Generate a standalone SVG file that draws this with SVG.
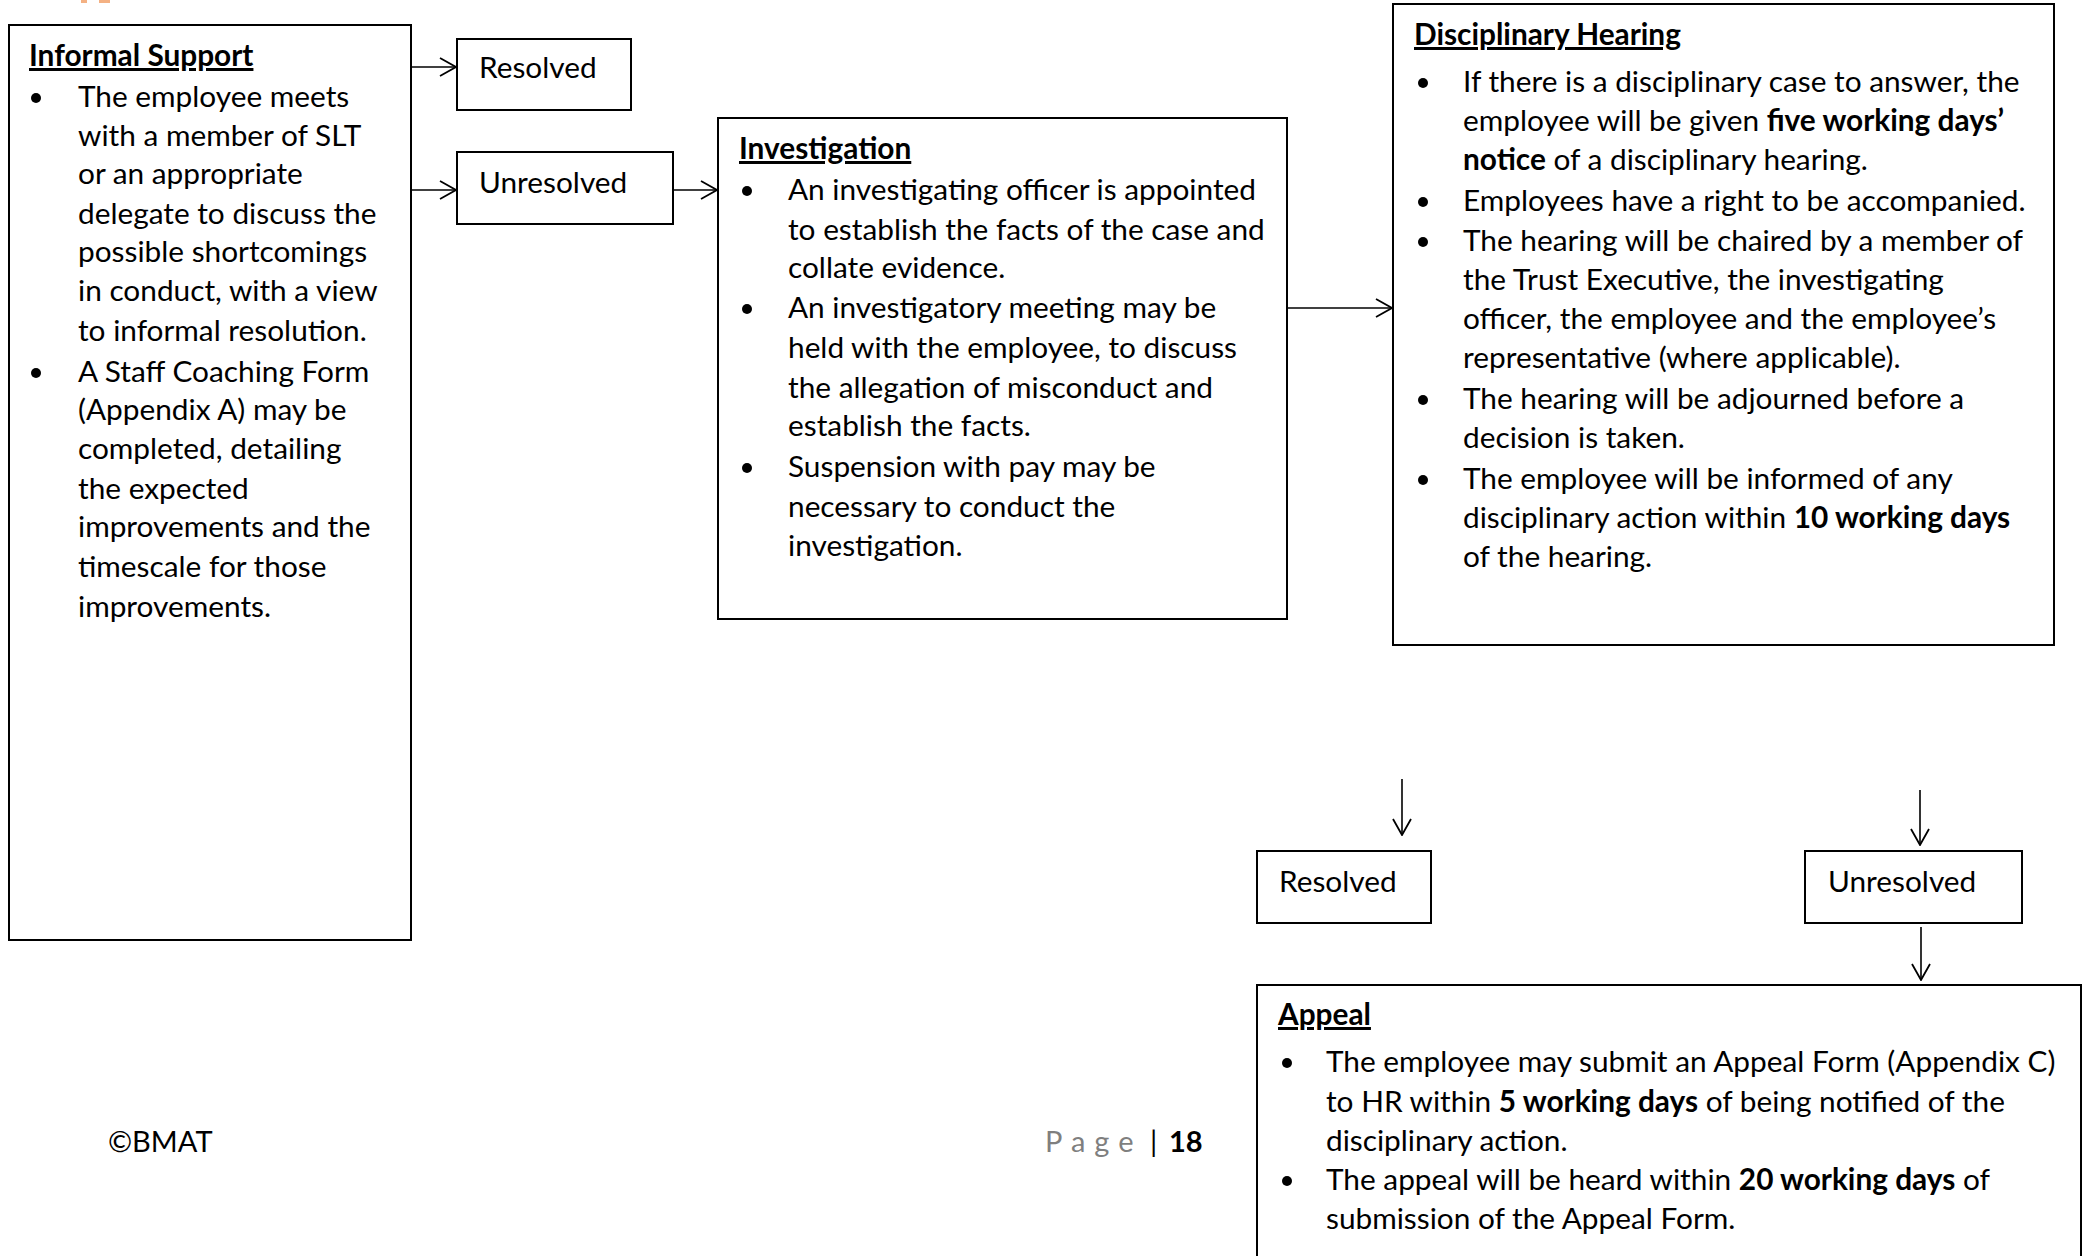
<svg xmlns="http://www.w3.org/2000/svg" width="2082" height="1256" viewBox="0 0 2082 1256">
<style>
.box{fill:#fff;stroke:#000;stroke-width:2}
.t{font-family:Lato,"Liberation Sans",sans-serif;font-size:29.8px;fill:#000}
.h{font-weight:bold;text-decoration:underline}
.b{font-weight:bold}
.dot{fill:#000}
.conn{stroke:#000;stroke-width:1.6;fill:none}
.ft{font-family:Lato,"Liberation Sans",sans-serif;font-size:29px;fill:#000}
</style>
<defs>
<marker id="arr" viewBox="0 0 18 20" refX="17" refY="10" markerWidth="18" markerHeight="20" markerUnits="userSpaceOnUse" orient="auto">
<path d="M1,1 L17,10 L1,19" fill="none" stroke="#000" stroke-width="1.8"/>
</marker>
</defs>
<rect width="2082" height="1256" fill="#fff"/>
<rect x="81" y="0" width="6" height="3" fill="#f4b183"/>
<rect x="99" y="0" width="11" height="3" fill="#f4b183"/>

<g id="informal">
<rect class="box" x="9" y="25" width="402" height="915"/>
<text class="t h" x="29" y="66">Informal Support</text>
<circle class="dot" cx="36" cy="98" r="5"/>
<circle class="dot" cx="36" cy="373" r="5"/>
<text class="t" x="78" y="107">The employee meets</text>
<text class="t" x="78" y="146">with a member of SLT</text>
<text class="t" x="78" y="184">or an appropriate</text>
<text class="t" x="78" y="224">delegate to discuss the</text>
<text class="t" x="78" y="262">possible shortcomings</text>
<text class="t" x="78" y="301">in conduct, with a view</text>
<text class="t" x="78" y="341">to informal resolution.</text>
<text class="t" x="78" y="382">A Staff Coaching Form</text>
<text class="t" x="78" y="420">(Appendix A) may be</text>
<text class="t" x="78" y="459">completed, detailing</text>
<text class="t" x="78" y="499">the expected</text>
<text class="t" x="78" y="537">improvements and the</text>
<text class="t" x="78" y="577">timescale for those</text>
<text class="t" x="78" y="617">improvements.</text>
</g>

<g id="resolved1">
<rect class="box" x="457" y="39" width="174" height="71"/>
<text class="t" x="479" y="78">Resolved</text>
</g>

<g id="unresolved1">
<rect class="box" x="457" y="152" width="216" height="72"/>
<text class="t" x="479" y="193">Unresolved</text>
</g>

<g id="investigation">
<rect class="box" x="718" y="118" width="569" height="501"/>
<text class="t h" x="739" y="159">Investigation</text>
<circle class="dot" cx="747" cy="191" r="5"/>
<circle class="dot" cx="747" cy="309" r="5"/>
<circle class="dot" cx="747" cy="468" r="5"/>
<text class="t" x="788" y="200">An investigating officer is appointed</text>
<text class="t" x="788" y="240">to establish the facts of the case and</text>
<text class="t" x="788" y="278">collate evidence.</text>
<text class="t" x="788" y="318">An investigatory meeting may be</text>
<text class="t" x="788" y="358">held with the employee, to discuss</text>
<text class="t" x="788" y="398">the allegation of misconduct and</text>
<text class="t" x="788" y="436">establish the facts.</text>
<text class="t" x="788" y="477">Suspension with pay may be</text>
<text class="t" x="788" y="517">necessary to conduct the</text>
<text class="t" x="788" y="556">investigation.</text>
</g>

<g id="hearing">
<rect class="box" x="1393" y="4" width="661" height="641"/>
<text class="t h" x="1414" y="45">Disciplinary Hearing</text>
<circle class="dot" cx="1423" cy="83" r="5"/>
<circle class="dot" cx="1423" cy="202" r="5"/>
<circle class="dot" cx="1423" cy="242" r="5"/>
<circle class="dot" cx="1423" cy="400" r="5"/>
<circle class="dot" cx="1423" cy="480" r="5"/>
<text class="t" x="1463" y="92">If there is a disciplinary case to answer, the</text>
<text class="t" x="1463" y="131">employee will be given <tspan class="b">five working days’</tspan></text>
<text class="t" x="1463" y="170"><tspan class="b">notice</tspan> of a disciplinary hearing.</text>
<text class="t" x="1463" y="211">Employees have a right to be accompanied.</text>
<text class="t" x="1463" y="251">The hearing will be chaired by a member of</text>
<text class="t" x="1463" y="290">the Trust Executive, the investigating</text>
<text class="t" x="1463" y="329">officer, the employee and the employee’s</text>
<text class="t" x="1463" y="368">representative (where applicable).</text>
<text class="t" x="1463" y="409">The hearing will be adjourned before a</text>
<text class="t" x="1463" y="448">decision is taken.</text>
<text class="t" x="1463" y="489">The employee will be informed of any</text>
<text class="t" x="1463" y="528">disciplinary action within <tspan class="b">10 working days</tspan></text>
<text class="t" x="1463" y="567">of the hearing.</text>
</g>

<g id="resolved2">
<rect class="box" x="1257" y="851" width="174" height="72"/>
<text class="t" x="1279" y="892">Resolved</text>
</g>

<g id="unresolved2">
<rect class="box" x="1805" y="851" width="217" height="72"/>
<text class="t" x="1828" y="892">Unresolved</text>
</g>

<g id="appeal">
<rect class="box" x="1257" y="985" width="824" height="290"/>
<text class="t h" x="1278" y="1025">Appeal</text>
<circle class="dot" cx="1287" cy="1063" r="5"/>
<circle class="dot" cx="1287" cy="1181" r="5"/>
<text class="t" x="1326" y="1072">The employee may submit an Appeal Form (Appendix C)</text>
<text class="t" x="1326" y="1112">to HR within <tspan class="b">5 working days</tspan> of being notified of the</text>
<text class="t" x="1326" y="1151">disciplinary action.</text>
<text class="t" x="1326" y="1190">The appeal will be heard within <tspan class="b">20 working days</tspan> of</text>
<text class="t" x="1326" y="1229">submission of the Appeal Form.</text>
</g>

<g id="footer">
<text class="ft" x="108" y="1152">©BMAT</text>
<text class="ft" x="1045" y="1152" style="fill:#7f7f7f;letter-spacing:9px">Page</text>
<text class="ft" x="1150" y="1152">|</text>
<text class="ft b" x="1169" y="1152">18</text>
</g>

<g id="connectors">
<line class="conn" x1="412" y1="67" x2="456" y2="67" marker-end="url(#arr)"/>
<line class="conn" x1="412" y1="190" x2="456" y2="190" marker-end="url(#arr)"/>
<line class="conn" x1="673" y1="190" x2="717" y2="190" marker-end="url(#arr)"/>
<line class="conn" x1="1288" y1="308" x2="1392" y2="308" marker-end="url(#arr)"/>
<line class="conn" x1="1402" y1="779" x2="1402" y2="835" marker-end="url(#arr)"/>
<line class="conn" x1="1920" y1="790" x2="1920" y2="845" marker-end="url(#arr)"/>
<line class="conn" x1="1921" y1="927" x2="1921" y2="980" marker-end="url(#arr)"/>
</g>
</svg>
